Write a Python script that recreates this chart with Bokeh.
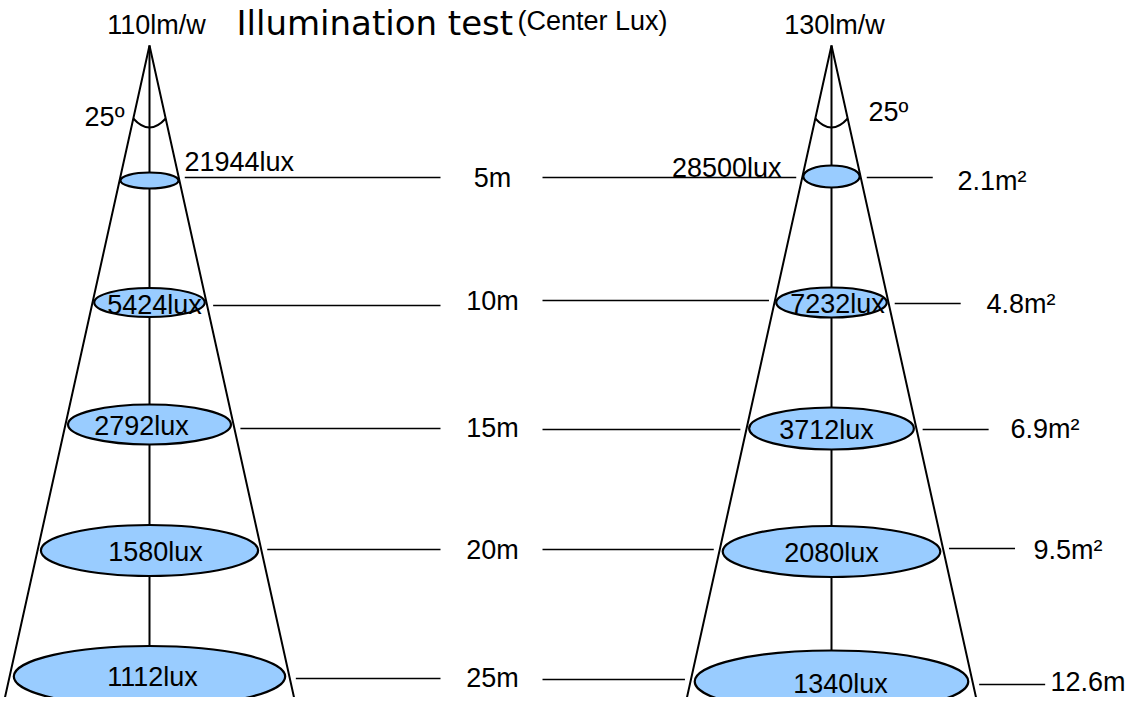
import numpy as np
from bokeh.plotting import figure
from bokeh.models import Range1d
from bokeh.core.properties import value
from bokeh.embed import file_html
from bokeh.resources import INLINE

# ---------------- data ----------------
distance_labels = ["5m", "10m", "15m", "20m", "25m"]
lux_110 = [21944, 5424, 2792, 1580, 1112]
lux_130 = [28500, 7232, 3712, 2080, 1340]
area_labels = ["2.1m²", "4.8m²", "6.9m²", "9.5m²", "12.6m"]
efficacy_labels = ["110lm/w", "130lm/w"]
beam_angle_deg = 25
title_main = "Illumination test"
title_sub = "(Center Lux)"

# ---------------- layout (pixel space of the drawing) ----------------
APEX_Y = 45
BOTTOM_Y = 698
CONE_X = [149, 831]
row_y = [[180, 302, 424, 550, 676], [176, 302, 428, 551, 681]]
ell_h = [[16, 29, 40, 51, 61], [22, 30, 42, 51, 62]]
lbl_dx = [[None, 5, -8, 6, 3], [None, 6, -5, 0, 9]]
lbl_mid = [[None, 304, 425, 551, 676], [None, 303, 429, 552, 683]]
lead_y_left = [177, 305, 428, 549, 678]
lead_y_mid = [177, 300, 429, 549, 679]
lead_y_right = [177, 303, 429, 548, 684]
dist_mid = [177, 300, 427, 549, 677]
area_x = [957, 986, 1010, 1033, 1050]
area_mid = [180, 303, 428, 549, 681]

FONT = value("Liberation Sans")
FS = "27px"
FILL = "#99CCFF"

p = figure(width=1128, height=697, output_backend="svg", toolbar_location=None,
           x_range=Range1d(0, 1128), y_range=Range1d(697, 0), min_border=0,
           x_axis_location=None, y_axis_location=None)
p.grid.visible = False
p.outline_line_color = None
p.background_fill_color = "white"
p.border_fill_color = "white"

slope = np.tan(np.radians(beam_angle_deg / 2.0))

for i, cx in enumerate(CONE_X):
    ys = np.array(row_y[i], dtype=float)
    # centre axis
    p.line([cx, cx], [APEX_Y, ys[-1]], line_color="black", line_width=2)
    # light spots
    widths = 2 * 0.97 * slope * (ys - APEX_Y)
    p.ellipse(x=[cx] * 5, y=ys, width=widths, height=ell_h[i],
              fill_color=FILL, line_color="black", line_width=2.2)
    # cone edges
    hw = slope * (BOTTOM_Y - APEX_Y)
    p.line([cx - hw, cx, cx + hw], [BOTTOM_Y, APEX_Y, BOTTOM_Y],
           line_color="black", line_width=2)
    # beam-angle arc
    ay = APEX_Y + 73
    p.quadratic(x0=[cx - slope * 73], y0=[ay], x1=[cx + slope * 73], y1=[ay],
                cx=[cx], cy=[APEX_Y + 91], line_color="black", line_width=2)

def txt(xs, ys, texts, align="left", font=FONT, size=FS):
    p.text(x=xs, y=ys, text=texts, text_font=font, text_font_size=size,
           text_align=align, text_baseline="middle", text_color="black")

# beam angle labels
deg = f"{beam_angle_deg}º"
txt([124], [116], [deg], align="right")
txt([868], [111], [deg], align="left")

# efficacy labels
txt([156, 834], [24, 24], efficacy_labels, align="center")

# title
txt([236], [22], [title_main], font=value("DejaVu Sans"), size="34px")
txt([517], [20], [title_sub])

# lux labels
for i, (cx, luxes) in enumerate(zip(CONE_X, [lux_110, lux_130])):
    xs, ys, ts = [], [], []
    for k in range(1, 5):
        xs.append(cx + lbl_dx[i][k])
        ys.append(lbl_mid[i][k])
        ts.append(f"{luxes[k]}lux")
    txt(xs, ys, ts, align="center")
txt([184], [161], [f"{lux_110[0]}lux"], align="left")
txt([781], [167], [f"{lux_130[0]}lux"], align="right")

# leader lines
GAP = 6
lx, ly = [], []
for y in lead_y_left:
    x0 = CONE_X[0] + slope * (y - APEX_Y) + GAP
    lx.append([x0, 440]); ly.append([y, y])
for y in lead_y_mid:
    x1 = CONE_X[1] - slope * (y - APEX_Y) - GAP
    lx.append([542, x1]); ly.append([y, y])
for y in lead_y_right:
    x0 = CONE_X[1] + slope * (y - APEX_Y) + GAP
    lx.append([x0, x0 + 66]); ly.append([y, y])
p.multi_line(xs=lx, ys=ly, line_color="black", line_width=1.6)

# distance labels
txt([492] * 5, dist_mid, distance_labels, align="center")

# area labels
txt(area_x, area_mid, area_labels, align="left")

open("out.html", "w").write(file_html(p, INLINE))
